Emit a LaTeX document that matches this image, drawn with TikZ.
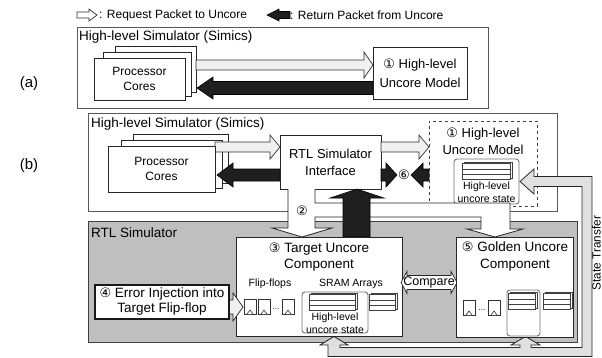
\documentclass[tikz,border=0pt]{standalone}
\usepackage{fontspec}
\setmainfont{Liberation Sans}
\newfontfamily\djv{DejaVu Sans}
\newcommand\cnum[1]{{\djv\fontsize{13}{13}\selectfont #1}}
\newcommand\sramstack[3]{%
  \draw[sramline] (#1+2.5,#2) rectangle (#1+#3+2.5,#2+16.5);
  \foreach \k in {0,1,2} {\draw[sramline] (#1,#2+1.5+\k*5.3) rectangle (#1+#3,#2+6.8+\k*5.3);}
}
\newcommand\flipflop[2]{%
  \draw[ffline] (#1,#2) rectangle (#1+12,#2+15);
  \draw[ffline] (#1+3,#2+15) -- (#1+6,#2+11) -- (#1+9,#2+15);
}
\begin{document}
\begin{tikzpicture}[x=1pt,y=-1pt,
 lbl/.style={font=\fontsize{13.5}{15}\selectfont, inner sep=0pt, anchor=west},
 txt/.style={font=\fontsize{13}{16}\selectfont, align=center, inner sep=0pt},
 sml/.style={font=\fontsize{10.5}{12.5}\selectfont, align=center, inner sep=0pt},
 box/.style={draw=black!85, fill=white, line width=0.8pt, inner sep=0pt},
 panel/.style={draw=black!65, line width=0.8pt},
 hollow/.style={draw=black!80, fill=black!6, line width=0.7pt, line join=miter},
 solidarr/.style={draw=black, fill=black!88, line width=0.6pt, line join=miter},
 sramline/.style={draw=black!75, fill=white, line width=0.55pt},
 ffline/.style={draw=black!80, fill=white, line width=0.6pt},
 hlstate/.style={draw=black!55, fill=white, line width=0.9pt, rounded corners=3pt, inner sep=0pt},
]
\useasboundingbox (0,0) rectangle (602,357);

% ---------- legend
\draw[hollow,fill=white] (77,12) -- (89,12) -- (89,9) -- (97,15) -- (89,21) -- (89,18) -- (77,18) -- cycle;
\node[txt,anchor=west,font=\fontsize{12}{14}\selectfont] (legreq) at (99,15) {: Request Packet to Uncore};
\draw[solidarr] (290,11.5) -- (279,11.5) -- (279,9) -- (267,15) -- (279,21) -- (279,18.5) -- (290,18.5) -- cycle;
\node[txt,anchor=west,font=\fontsize{12}{14}\selectfont] (legret) at (290,15) {: Return Packet from Uncore};

% ---------- (a)
\node[font=\fontsize{15}{15}\selectfont, inner sep=0pt] (la) at (29,84) {(a)};
\draw[panel] (77,27) rectangle (488,108);
\node[lbl] (simA) at (79,37) {High-level Simulator (Simics)};
\draw[box] (115,46) rectangle (196,92);
\draw[box] (103,52) rectangle (191,96);
\draw[hollow] (196,60) -- (364,60) -- (364,52) -- (373,65) -- (364,78) -- (364,70) -- (196,70) -- cycle;
\draw[solidarr] (373,81.5) -- (213,81.5) -- (213,77) -- (197,88) -- (213,99) -- (213,94.5) -- (373,94.5) -- cycle;
\node[box, txt, minimum width=91, minimum height=42, font=\fontsize{12}{15}\selectfont] (pcA) at (139.5,79) {Processor\\Cores};
\node[box, txt, minimum width=94, minimum height=52, font=\fontsize{13}{19}\selectfont] (hlA) at (420,73) {\cnum{①} High-level\\Uncore Model};

% ---------- RTL simulator background
\draw[draw=black!75, fill=black!25, line width=1pt] (88,221) rectangle (577,342);
\node[lbl] (rtlsim) at (91,233) {RTL Simulator};

% ---------- (b)
\node[font=\fontsize{15}{15}\selectfont, inner sep=0pt] (lb) at (29,166) {(b)};
\draw[panel] (88,113) rectangle (557,211);
\node[lbl] (simB) at (91,124) {High-level Simulator (Simics)};
\draw[box] (133,134) rectangle (228,183);
\draw[box] (121,140) rectangle (222,188);
\draw[hollow] (215,142) -- (270,142) -- (270,135) -- (280,147) -- (270,159) -- (270,152) -- (215,152) -- cycle;
\draw[solidarr] (280,169) -- (233,169) -- (233,163) -- (217,175) -- (233,187) -- (233,181) -- (280,181) -- cycle;
\node[box, txt, minimum width=107, minimum height=46, font=\fontsize{12}{15}\selectfont] (pcB) at (161.5,169) {Processor\\Cores};
\node[box, txt, minimum width=101, minimum height=54, font=\fontsize{13}{17}\selectfont] (rtlif) at (330.5,162) {RTL Simulator\\Interface};

\draw[hollow] (381,142) -- (419,142) -- (419,135) -- (429,147) -- (419,159) -- (419,152) -- (381,152) -- cycle;
\draw[solidarr] (381,169) -- (386,169) -- (386,163) -- (397,175) -- (386,187) -- (386,181) -- (381,181) -- cycle;
\draw[solidarr] (429,169) -- (423,169) -- (423,163) -- (411,175) -- (423,187) -- (423,181) -- (429,181) -- cycle;
\node[inner sep=0pt] (c6) at (404,175) {\cnum{⑥}};

\node[draw=black!75, dashed, line width=0.7pt, minimum width=108, minimum height=85, inner sep=0pt] (hlB) at (483,163.5) {};
\node[txt, font=\fontsize{13}{16.5}\selectfont] (hlBt) at (483,141.5) {\cnum{①} High-level\\Uncore Model};
\node[hlstate, minimum width=65, minimum height=45] (hsB) at (486.5,181.5) {};
\sramstack{462}{162}{48}
\node[sml] (hsBt) at (486.5,192) {High-level\\uncore state};

% ---------- state transfer
\path[draw=black!85, fill=black!12, line width=0.8pt, line join=miter]
 (520,181.5) -- (534,169) -- (534,176.5) -- (592,176.5) -- (592,356.5) -- (328,356.5)
 -- (328,345) -- (320,345) -- (334,336.5) -- (348,345) -- (340,345) -- (340,347.5)
 -- (520,347.5) -- (520,345) -- (511,345) -- (525.5,336.5) -- (540,345) -- (531,345)
 -- (531,347.5) -- (582,347.5) -- (582,186.5) -- (534,186.5) -- (534,194) -- cycle;
\node[rotate=90, font=\fontsize{11.8}{12}\selectfont, inner sep=0pt] (sttr) at (596.5,253) {State Transfer};

% ---------- request (2) arrow with branch
\path[fill=white] (288,189) -- (288,228) -- (272,228) -- (302,237) -- (332,228) -- (315,228)
 -- (315,217) -- (481,217) -- (481,229) -- (467,229) -- (495,237) -- (523,229) -- (510,229)
 -- (510,203) -- (315,203) -- (315,189) -- cycle;
\draw[draw=black!85, line width=0.8pt, line join=miter] (288,189) -- (288,228) -- (272,228) -- (302,237) -- (332,228) -- (315,228)
 -- (315,217) -- (481,217) -- (481,229) -- (467,229) -- (495,237) -- (523,229) -- (510,229)
 -- (510,203) -- (315,203) -- (315,189);
\node[inner sep=0pt] (c2) at (302,211) {\cnum{②}};

% ---------- return arrow up
\draw[solidarr] (343,237) -- (343,198) -- (330,198) -- (357,189) -- (384,198) -- (370,198) -- (370,237) -- cycle;

% ---------- target uncore component
\node[box, minimum width=166, minimum height=99] (tgt) at (319,286.5) {};
\node[txt, font=\fontsize{13.5}{16}\selectfont] (tgtt) at (319,257) {\cnum{③} Target Uncore\\Component};
\node[sml] (fft) at (270,284) {Flip-flops};
\node[sml] (sramt) at (351,284) {SRAM Arrays};
\flipflop{244}{299}
\flipflop{258}{299}
\node[font=\fontsize{8}{8}\selectfont, inner sep=0pt] (dotst) at (276,309) {...};
\flipflop{282}{299}
\node[hlstate, minimum width=66, minimum height=41] (hsT) at (335,312.5) {};
\sramstack{309}{293}{46}
\node[sml] (hsTt) at (335,323) {High-level\\uncore state};
\sramstack{369}{293}{26}

% ---------- compare
\path[draw=black!85, fill=white, line width=0.7pt, line join=miter]
 (401,282.5) -- (407,271.5) -- (407,275.5) -- (451,275.5) -- (451,271.5) -- (457,282.5)
 -- (451,293.5) -- (451,289.5) -- (407,289.5) -- (407,293.5) -- cycle;
\node[txt, font=\fontsize{12.5}{14}\selectfont] (cmp) at (429,282.5) {Compare};

% ---------- golden uncore component
\node[box, minimum width=117, minimum height=100] (gold) at (514.5,287) {};
\node[txt, font=\fontsize{13.5}{17}\selectfont] (goldt) at (515,256.5) {\cnum{⑤} Golden Uncore\\Component};
\flipflop{463}{300}
\node[font=\fontsize{8}{8}\selectfont, inner sep=0pt] (dotsg) at (482,310) {...};
\flipflop{488}{300}
\node[hlstate, minimum width=33, minimum height=46] (hsG) at (523.5,313) {};
\sramstack{508}{292}{27}
\sramstack{543}{292}{27}

% ---------- error injection
\path[draw=black!85, fill=black!6, line width=0.7pt, line join=miter]
 (229,300) -- (233,300) -- (233,293) -- (243,307) -- (233,321) -- (233,314) -- (229,314);
\node[draw=black!90, line width=1.6pt, fill=white, minimum width=134, minimum height=34, txt, font=\fontsize{13.5}{15}\selectfont] (errinj) at (162,302) {\cnum{④} Error Injection into\\Target Flip-flop};
\end{tikzpicture}
\end{document}
